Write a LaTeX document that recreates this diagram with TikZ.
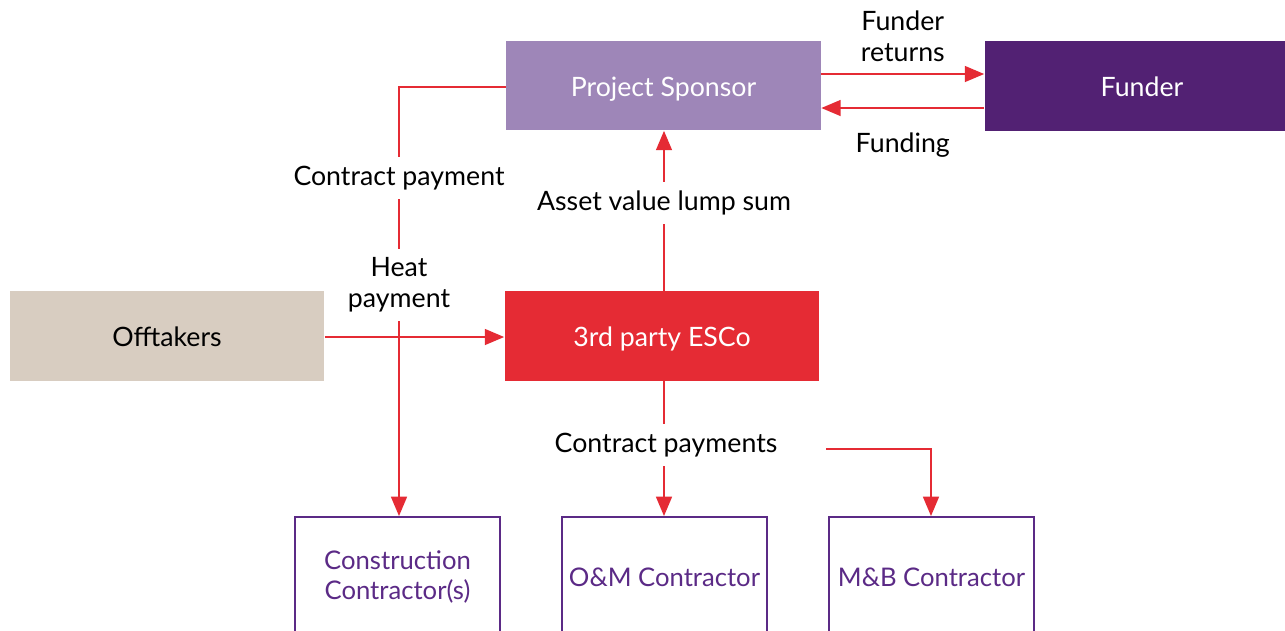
\documentclass[tikz,border=0pt]{standalone}
\usepackage{fontspec}
\setmainfont{Lato}
\usepackage{xcolor}
\usetikzlibrary{arrows.meta,positioning}
\definecolor{sponsorcol}{HTML}{9E86B8}
\definecolor{fundercol}{HTML}{522173}
\definecolor{offtakecol}{HTML}{D8CDC1}
\definecolor{escocol}{HTML}{E52B34}
\definecolor{contrcol}{HTML}{5B2A86}
\tikzset{
	blk/.style={rectangle, minimum width=6.3cm, minimum height=1.8cm, align=center,
		font=\fontsize{15.2}{17.5}\selectfont, inner sep=0pt, text height=12.5pt, text depth=0pt},
	party/.style={blk, fill=sponsorcol, text=white},
	fund/.style={blk, fill=fundercol, text=white},
	offt/.style={blk, fill=offtakecol, text=black},
	esco/.style={blk, fill=escocol, text=white},
	contr/.style={rectangle, draw=contrcol, line width=1.1pt, text=contrcol, align=center,
		font=\fontsize{14.6}{17.5}\selectfont, inner sep=0pt, minimum width=4.1cm, minimum height=2.4cm},
	flow/.style={draw=escocol, line width=1.1pt, -{Triangle[length=11pt,width=9pt]}},
	lbl/.style={font=\fontsize{15.2}{17.5}\selectfont, fill=white, inner sep=5pt, align=center},
}

\begin{document}
\begin{tikzpicture}[x=0.02cm, y=-0.02cm]
	\useasboundingbox[fill=white] (0,0) rectangle (1285,630);
	\node[party] at (663.5,85.5) (sponsor) {Project Sponsor};
	\node[fund] at (1142,86) (funder) {Funder};
	\node[offt] at (167,336) (offtakers) {Offtakers};
	\node[esco] at (662,336) (esco) {3rd party ESCo};
	\node[contr] at (397.5,577) (construct) {Construction\\Contractor(s)};
	\node[contr] at (664.5,577) (omc) {O\&M Contractor};
	\node[contr] at (931.5,577) (mbc) {M\&B Contractor};
	\coordinate (mbsplit) at (826,449);
	% sponsor <-> funder
	\draw[flow] (sponsor.east |- 0,74) -- (funder.west |- 0,74) node[pos=0.5, above=3pt, font=\fontsize{15.2}{17.5}\selectfont, align=center] {Funder\\returns};
	\draw[flow] (funder.west |- 0,108) -- (sponsor.east |- 0,108) node[pos=0.5, below=10pt, font=\fontsize{15.2}{17.5}\selectfont] {Funding};
	% payments
	\draw[flow] (sponsor.west |- 0,87) -| (construct.north -| 399,0);
	\draw[flow] (esco.north -| 664,0) -- (sponsor.south -| 664,0);
	\draw[flow] (esco.south -| 664,0) -- (omc.north -| 664,0);
	\draw[flow] (mbsplit) -| (mbc.north -| 931,0);
	\draw[flow] (offtakers.east |- 0,337) -- (esco.west |- 0,337);
	% labels on the lines
	\node[lbl] at (399,178) (cplbl) {Contract payment};
	\node[lbl] at (399,285) (heatlbl) {Heat\\payment};
	\node[lbl] at (664,203) (assetlbl) {Asset value lump sum};
	\node[lbl] at (666,445) (cpslbl) {Contract payments};
\end{tikzpicture}
\end{document}
